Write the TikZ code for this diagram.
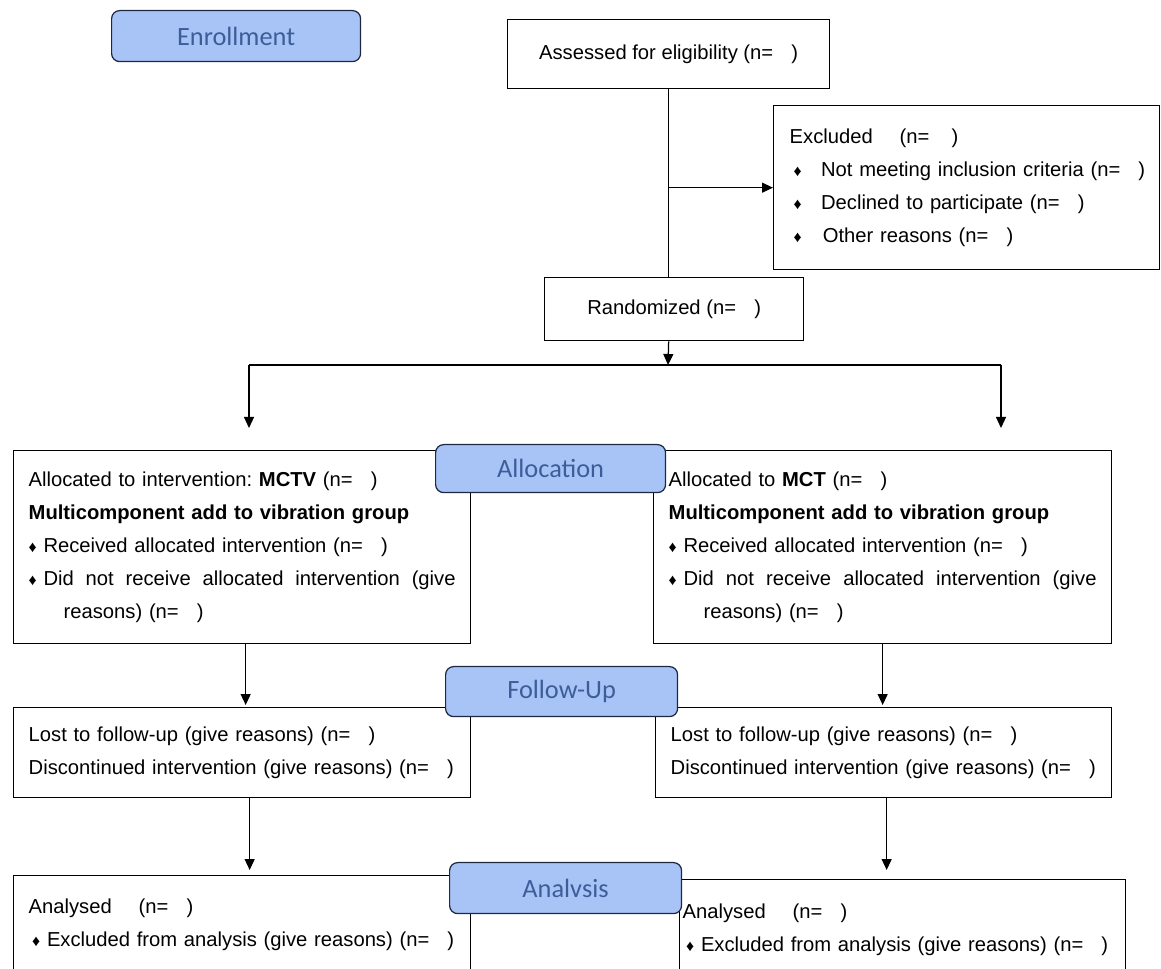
\documentclass[tikz,border=0pt]{standalone}
\usepackage{fontspec}
\setmainfont{Liberation Sans}
\newfontfamily\lblfont{Carlito}
\usetikzlibrary{arrows.meta}
\definecolor{lblfill}{HTML}{A8C4F7}
\definecolor{lbltext}{HTML}{3E5C98}
\definecolor{lbledge}{HTML}{1E2840}
\newcommand{\dia}{{\fontsize{9}{9}\selectfont ♦}}
\newcommand{\nn}{(n=\hspace{0.9em})}
\begin{document}
\begin{tikzpicture}[x=0.02cm,y=-0.02cm,
  box/.style={draw,line width=0.8pt,anchor=north west,inner xsep=0.3cm,inner ysep=0pt,
    align=left,font=\fontsize{11.5}{18.7}\selectfont},
  lbl/.style={draw=lbledge,line width=0.7pt,fill=lblfill,rounded corners=0.16cm,anchor=north west,
    text=lbltext,font=\lblfont\fontsize{15}{15}\selectfont},
  arr/.style={-{Triangle[length=0.22cm,width=0.2cm]},line width=0.7pt}]
\useasboundingbox (0,0) rectangle (1161,969);
% enrollment
\node[box,align=center,minimum width=6.44cm,minimum height=1.38cm] (assess) at (507,19) {\raisebox{-2pt}{Assessed for eligibility \nn}};
\node[box,inner xsep=0.1cm,text width=7.52cm,minimum height=3.28cm] (excl) at (773,105)
  {\hspace*{0.22cm}Excluded\hspace{1em} (n=\hspace{1.1em})\\
   \hspace*{0.3cm}\dia\hspace{11pt}Not meeting inclusion criteria \nn\\
   \hspace*{0.3cm}\dia\hspace{11pt}Declined to participate \nn\\
   \hspace*{0.3cm}\dia\hspace{12pt}Other reasons \nn};
\node[box,align=center,minimum width=5.18cm,minimum height=1.26cm] (rand) at (544,277) {Randomized \nn};
% allocation
\node[box,text width=8.54cm,minimum height=3.86cm] (allocL) at (13,450)
  {Allocated to intervention:\ \textbf{MCTV} \nn\\
   \textbf{Multicomponent add to vibration group}\\
   \dia\ Received allocated intervention \nn\\
   \dia\ Did\hfill not\hfill receive\hfill allocated\hfill intervention\hfill (give\\
   \hspace*{0.7cm}reasons) \nn};
\node[box,text width=8.56cm,minimum height=3.86cm] (allocR) at (653,450)
  {Allocated to \textbf{MCT} \nn\\
   \textbf{Multicomponent add to vibration group}\\
   \dia\ Received allocated intervention \nn\\
   \dia\ Did\hfill not\hfill receive\hfill allocated\hfill intervention\hfill (give\\
   \hspace*{0.7cm}reasons) \nn};
% follow-up
\node[box,text width=8.54cm,minimum height=1.8cm] (fuL) at (13,707)
  {Lost to follow-up (give reasons) \nn\\
   Discontinued intervention (give reasons) \nn};
\node[box,text width=8.52cm,minimum height=1.8cm] (fuR) at (655,707)
  {Lost to follow-up (give reasons) \nn\\
   Discontinued intervention (give reasons) \nn};
% analysis
\node[box,text width=8.54cm,minimum height=1.96cm] (anL) at (13,875)
  {Analysed\hspace{1em} \nn\\
   \hspace*{2pt}\dia\ Excluded from analysis (give reasons) \nn};
\node[box,inner xsep=0.06cm,text width=8.8cm,minimum height=2.02cm] (anR) at (679,879)
  {Analysed\hspace{1em} \nn\\
   \hspace*{2pt}\dia\ Excluded from analysis (give reasons) \nn};
% stage labels
\node[lbl,minimum width=4.98cm,minimum height=1.02cm] (enroll) at (111,10) {Enrollment};
\node[lbl,minimum width=4.6cm,minimum height=0.96cm] (allocLbl) at (435,444) {Allocation};
\node[lbl,minimum width=4.64cm,minimum height=1cm] (fuLbl) at (445,666) {Follow-Up};
\node[lbl,minimum width=4.64cm,minimum height=1.02cm] (anLbl) at (449,862) {Analvsis};
% connectors
\draw[line width=0.7pt] (assess.south) -- (assess.south |- rand.north);
\draw[arr] (assess.south |- excl.west) -- (excl.west);
\coordinate (split) at (668,365);
\coordinate (splitL) at (249,365);
\coordinate (splitR) at (1001,365);
\coordinate (tipL) at (249,428);
\coordinate (tipR) at (1001,428);
\draw[arr] (assess.south |- rand.south) -- (split);
\draw[line width=0.7pt] (splitL) -- (splitR);
\draw[arr] (splitL) -- (tipL);
\draw[arr] (splitR) -- (tipR);
\draw[arr] ([xshift=0.07cm]allocL.south) -- ([xshift=0.07cm,yshift=0.04cm]fuL.north);
\draw[arr] (allocR.south) -- ([yshift=0.04cm]allocR.south |- fuR.north);
\draw[arr] ([xshift=0.15cm]fuL.south) -- ([xshift=0.15cm,yshift=0.1cm]anL.north);
\draw[arr] ([xshift=0.06cm]fuR.south) -- ([xshift=0.06cm,yshift=0.18cm]fuR.south |- anR.north);
\end{tikzpicture}
\end{document}
